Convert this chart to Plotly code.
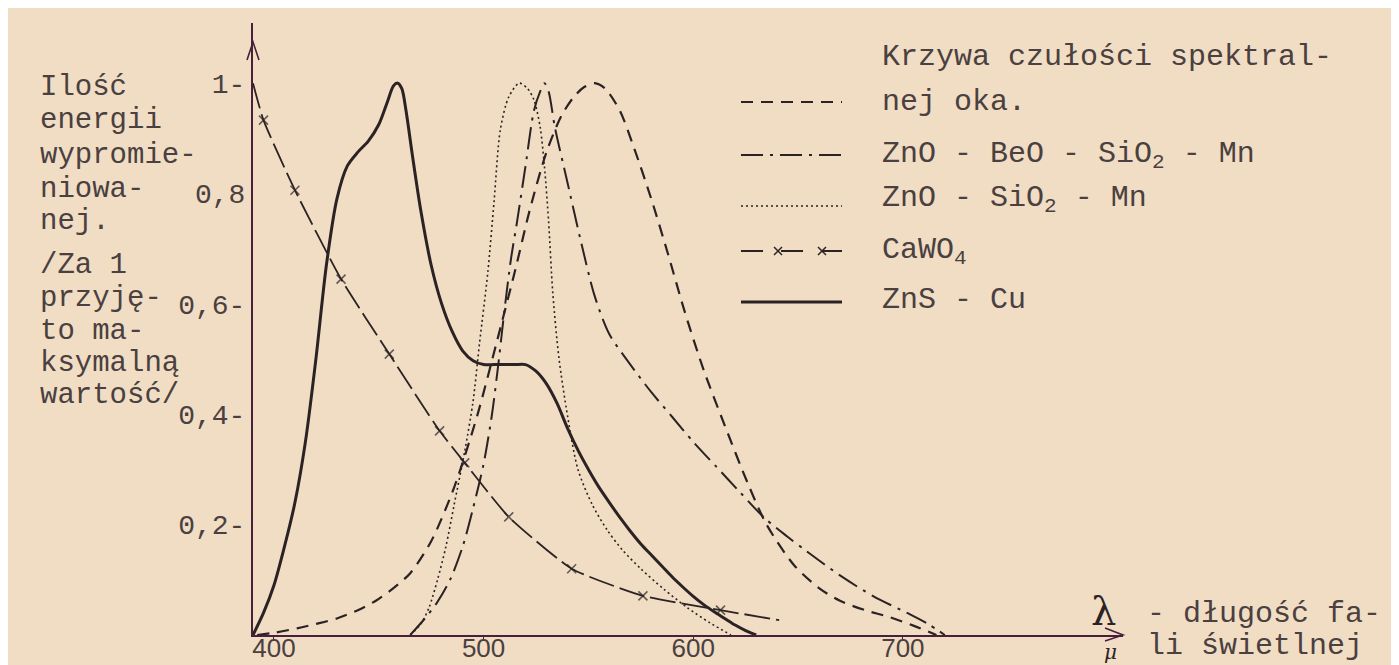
import plotly.graph_objects as go

# ---------------- data ----------------
# wavelength in nm, relative emitted energy (max = 1)
eye_x = [392, 400, 411, 420, 430, 440, 449, 457, 465, 475, 486, 497, 506, 515, 522, 530,
         537, 543, 548, 553, 558, 565, 572, 580, 588, 596, 605, 615, 626, 635, 648, 660,
         670, 682, 694, 705, 716]
eye_y = [0.0, 0.004, 0.012, 0.02, 0.03, 0.045, 0.063, 0.085, 0.112, 0.17, 0.268, 0.398,
         0.527, 0.66, 0.77, 0.875, 0.94, 0.975, 0.993, 1.0, 0.99, 0.95, 0.88, 0.79, 0.69,
         0.585, 0.48, 0.38, 0.275, 0.20, 0.127, 0.085, 0.062, 0.045, 0.032, 0.017, 0.0]

beo_x = [465, 472, 478, 484, 490, 495, 500, 504, 507, 510, 513, 516, 520, 524, 527, 529,
         531, 534, 540, 546, 553, 560, 570, 580, 590, 600, 611, 622, 634, 645, 654, 670,
         686, 702, 712, 720]
beo_y = [0.0, 0.03, 0.06, 0.10, 0.16, 0.23, 0.31, 0.40, 0.49, 0.59, 0.68, 0.75, 0.85,
         0.95, 0.985, 1.0, 0.985, 0.92, 0.82, 0.72, 0.614, 0.545, 0.49, 0.44, 0.395, 0.35,
         0.305, 0.26, 0.212, 0.178, 0.152, 0.108, 0.07, 0.04, 0.02, 0.0]

sio_x = [465, 470, 474, 478, 482, 486, 491, 495, 498, 502, 505, 508, 512, 517, 521, 524,
         527, 529, 531, 533, 536, 540, 545, 552, 559, 566, 575, 586, 597, 608, 618]
sio_y = [0.0, 0.02, 0.05, 0.10, 0.16, 0.237, 0.333, 0.424, 0.527, 0.657, 0.786, 0.916,
         0.975, 1.0, 0.99, 0.97, 0.92, 0.85, 0.75, 0.62, 0.50, 0.398, 0.30, 0.235, 0.19,
         0.155, 0.12, 0.083, 0.05, 0.022, 0.0]

cawo_x = [390, 395, 410, 432, 455, 479, 491, 512, 542, 576, 613, 641]
cawo_y = [1.0, 0.933, 0.806, 0.645, 0.509, 0.37, 0.312, 0.214, 0.12, 0.071, 0.045, 0.027]
cawo_marker_size = [0, 9, 9, 9, 9, 9, 9, 9, 9, 9, 9, 0]

zns_x = [390, 395, 400, 405, 410, 415, 420, 425, 430, 435, 440, 445, 450, 454, 457, 459,
         461, 463, 466, 470, 475, 480, 485, 490, 495, 500, 505, 510, 515, 520, 525, 530,
         535, 540, 545, 550, 555, 560, 565, 570, 575, 580, 585, 590, 595, 600, 605, 610,
         615, 620, 625, 630]
zns_y = [0.0, 0.04, 0.09, 0.16, 0.24, 0.35, 0.50, 0.67, 0.79, 0.85, 0.875, 0.895, 0.925,
         0.965, 0.995, 1.0, 0.99, 0.95, 0.87, 0.77, 0.67, 0.60, 0.55, 0.515, 0.497, 0.49,
         0.49, 0.49, 0.49, 0.49, 0.478, 0.455, 0.42, 0.375, 0.335, 0.30, 0.268, 0.24, 0.213,
         0.188, 0.165, 0.145, 0.125, 0.105, 0.087, 0.07, 0.055, 0.042, 0.03, 0.018, 0.008,
         0.0]

x_ticks = [400, 500, 600, 700]
x_ticktext = ["400", "500", "600", "700"]
y_ticks = [1.0, 0.8, 0.6, 0.4, 0.2]
y_ticktext = ["1-", "0,8", "0,6-", "0,4-", "0,2-"]

legend_labels = ["Krzywa czułości spektral-", "nej oka.", "ZnO - BeO - SiO<sub>2</sub> - Mn",
                 "ZnO - SiO<sub>2</sub> - Mn", "CaWO<sub>4</sub>", "ZnS - Cu"]
ylabel_lines = ["Ilość", "energii", "wypromie-", "niowa-", "nej.", "/Za 1", "przyję-",
                "to ma-", "ksymalną", "wartość/"]

# ---------------- styling / layout ----------------
W, H = 1399, 665
L, R, T, B = 245, 284, 15, 38
PW, PH = W - L - R, H - T - B
BG = "#F0DDC4"
INK = "#2b2224"
AXC = "#4a1f3c"
TXT = "#4a4040"
MONO = "Liberation Mono"


def px(xp):
    return (xp - L) / PW


def py(yp):
    return (H - B - yp) / PH


fig = go.Figure()
common = dict(mode="lines", line_shape="spline", hoverinfo="skip", showlegend=False)
fig.add_trace(go.Scatter(x=eye_x, y=eye_y, line=dict(color=INK, width=2.2, dash="12px,8px",
                                                     smoothing=0.8), **common))
fig.add_trace(go.Scatter(x=beo_x, y=beo_y, line=dict(color=INK, width=2.0,
                                                     dash="22px,7px,3px,7px", smoothing=0.8),
                         **common))
fig.add_trace(go.Scatter(x=sio_x, y=sio_y, line=dict(color=INK, width=1.6, dash="2px,3px",
                                                     smoothing=0.8), **common))
fig.add_trace(go.Scatter(x=cawo_x, y=cawo_y, mode="lines+markers", line_shape="spline",
                         hoverinfo="skip", showlegend=False,
                         line=dict(color=INK, width=1.8, dash="26px,6px", smoothing=0.5),
                         marker=dict(symbol="x-thin", size=cawo_marker_size,
                                     line=dict(color=INK, width=1.6))))
fig.add_trace(go.Scatter(x=zns_x, y=zns_y, line=dict(color=INK, width=3.0, smoothing=0.8),
                         **common))

shapes = []
# legend samples
leg_x0, leg_x1 = 733, 834
leg_styles = [(94, "12px,8px", 2.2), (147, "22px,7px,3px,7px", 2.0), (198, "2px,3px", 1.6),
              (243, "22px,18px", 1.8), (294, "solid", 3.0)]
for yy, dash, wd in leg_styles:
    shapes.append(dict(type="line", xref="paper", yref="paper", x0=px(leg_x0), x1=px(leg_x1),
                       y0=py(yy), y1=py(yy), line=dict(color=INK, width=wd, dash=dash)))
for cx in (770, 814):
    shapes.append(dict(type="path", xref="paper", yref="paper",
                       path=f"M {px(cx-4)} {py(243-4)} L {px(cx+4)} {py(243+4)} "
                            f"M {px(cx-4)} {py(243+4)} L {px(cx+4)} {py(243-4)}",
                       line=dict(color=INK, width=1.5)))
# axis arrow heads
shapes.append(dict(type="path", xref="paper", yref="paper",
                   path=f"M {px(239)} {py(52)} L {px(245)} {py(34)} L {px(251)} {py(52)}",
                   line=dict(color=AXC, width=1.6)))
shapes.append(dict(type="path", xref="paper", yref="paper",
                   path=f"M {px(1097)} {py(620)} L {px(1115)} {py(627)} L {px(1097)} {py(633)}",
                   line=dict(color=AXC, width=1.6)))

ann = []
leg_text_y = [49, 94, 147, 192, 243, 292]
for t, yy in zip(legend_labels, leg_text_y):
    ann.append(dict(text=t, x=px(872), y=py(yy), xref="paper", yref="paper", xanchor="left",
                    yanchor="middle", showarrow=False, font=dict(family=MONO, size=30, color=TXT)))
ylab_y = [80, 113, 147, 181, 214, 257, 291, 323, 355, 387]
for t, yy in zip(ylabel_lines, ylab_y):
    ann.append(dict(text=t, x=px(30), y=py(yy), xref="paper", yref="paper", xanchor="left",
                    yanchor="middle", showarrow=False, font=dict(family=MONO, size=29, color=TXT)))
ann.append(dict(text="λ", x=px(1095), y=py(603), xref="paper", yref="paper", xanchor="center",
                yanchor="middle", showarrow=False,
                font=dict(family="DejaVu Serif", size=40, color=INK)))
ann.append(dict(text="<i>μ</i>", x=px(1102), y=py(644), xref="paper", yref="paper",
                xanchor="center", yanchor="middle", showarrow=False,
                font=dict(family="DejaVu Serif", size=20, color=INK)))
ann.append(dict(text="- długość fa-", x=px(1137), y=py(606), xref="paper", yref="paper",
                xanchor="left", yanchor="middle", showarrow=False,
                font=dict(family=MONO, size=30, color=TXT)))
ann.append(dict(text="li świetlnej", x=px(1137), y=py(638), xref="paper", yref="paper",
                xanchor="left", yanchor="middle", showarrow=False,
                font=dict(family=MONO, size=30, color=TXT)))

fig.update_layout(
    width=W, height=H, margin=dict(l=L, r=R, t=T, b=B, autoexpand=False),
    paper_bgcolor=BG, plot_bgcolor=BG, shapes=shapes, annotations=ann,
    xaxis=dict(range=[390, 805], showgrid=False, zeroline=False, showline=True,
               linecolor=AXC, linewidth=2, ticks="outside", ticklen=4, tickcolor=AXC,
               tickvals=x_ticks, ticktext=x_ticktext, ticklabelstandoff=-15,
               tickfont=dict(family="Liberation Sans", size=26, color=TXT)),
    yaxis=dict(range=[0, 1.109], showgrid=False, zeroline=False, showline=True,
               linecolor=AXC, linewidth=2, ticks="", tickvals=y_ticks, ticktext=y_ticktext,
               ticklabelstandoff=0,
               tickfont=dict(family=MONO, size=28, color=TXT)),
)

fig.write_html("out.html")
